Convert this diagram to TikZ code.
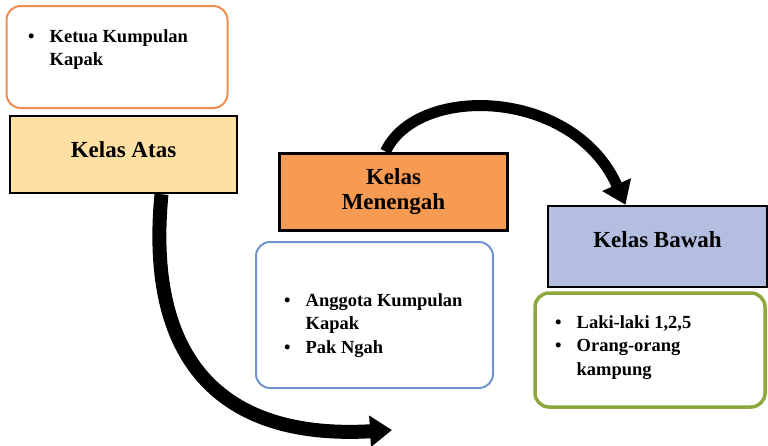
\documentclass[tikz,border=0pt]{standalone}
\usepackage{fontspec}
\setmainfont{Liberation Serif}
\usetikzlibrary{arrows.meta,backgrounds}
\definecolor{garisjingga}{HTML}{EE8D52}
\definecolor{isiatas}{HTML}{FFE0A3}
\definecolor{isitengah}{HTML}{F79A52}
\definecolor{isibawah}{HTML}{B4BEE1}
\definecolor{garisbiru}{HTML}{6E93CF}
\definecolor{garishijau}{HTML}{8CA83D}
\begin{document}
\begin{tikzpicture}[x=1pt,y=-1pt,
  kelas/.style={draw=black, line width=2.5pt, inner sep=0pt, align=center,
    font=\fontsize{23}{25}\selectfont\bfseries},
  isi/.style={rounded corners=14pt, fill=white, line width=2pt},
  daftar/.style={anchor=base west, inner sep=0pt,
    font=\fontsize{18.5}{23.5}\selectfont\bfseries},
  panah/.style={-{Triangle[length=22pt,width=30pt]}, black}]
\useasboundingbox (0,0) rectangle (768,445);

% kotak isi
\node[isi, draw=garisjingga, minimum width=221pt, minimum height=102pt] (ketua) at (117,57) {};
\node[isi, draw=garisbiru, minimum width=237pt, minimum height=146pt] (anggota) at (374.5,315) {};
\node[isi, draw=garishijau, line width=3.5pt, minimum width=230pt, minimum height=114pt] (orang) at (650,350) {};

% kotak kelas
\node[kelas, fill=isiatas, minimum width=227pt, minimum height=77pt] (atas) at (123.5,154.5) {\raisebox{9.5pt}{Kelas Atas}};
\node[kelas, fill=isitengah, line width=3pt, minimum width=228pt, minimum height=77pt] (tengah) at (393.5,191.5) {Kelas\\Menengah};
\node[kelas, fill=isibawah, minimum width=219pt, minimum height=81pt] (bawah) at (657.5,246.5) {\raisebox{14pt}{Kelas Bawah}};

% senarai
\node[daftar] (ketuateks) at (28,42) {\begin{tabular}[t]{@{}l@{\hspace{15pt}}l@{}}
  \textbullet & Ketua Kumpulan\\ & Kapak\end{tabular}};
\node[daftar] (anggotateks) at (284,306) {\begin{tabular}[t]{@{}l@{\hspace{15pt}}l@{}}
  \textbullet & Anggota Kumpulan\\ & Kapak\\ \textbullet & Pak Ngah\end{tabular}};
\node[daftar] (orangteks) at (555,328) {\begin{tabular}[t]{@{}l@{\hspace{15pt}}l@{}}
  \textbullet & Laki-laki 1,2,5\\ \textbullet & Orang-orang\\ & kampung\end{tabular}};

% anak panah
\coordinate (hujung) at (392,430);
\begin{scope}[on background layer]
\draw[panah, line width=14pt] ([xshift=38pt]atas.south) .. controls +(-16,165) and +(-172,10) .. (hujung);
\draw[panah, line width=11pt] ([xshift=-8pt]tengah.north) .. controls +(32,-68) and +(-52,-117) .. ([xshift=-32pt]bawah.north);
\end{scope}
\end{tikzpicture}
\end{document}
